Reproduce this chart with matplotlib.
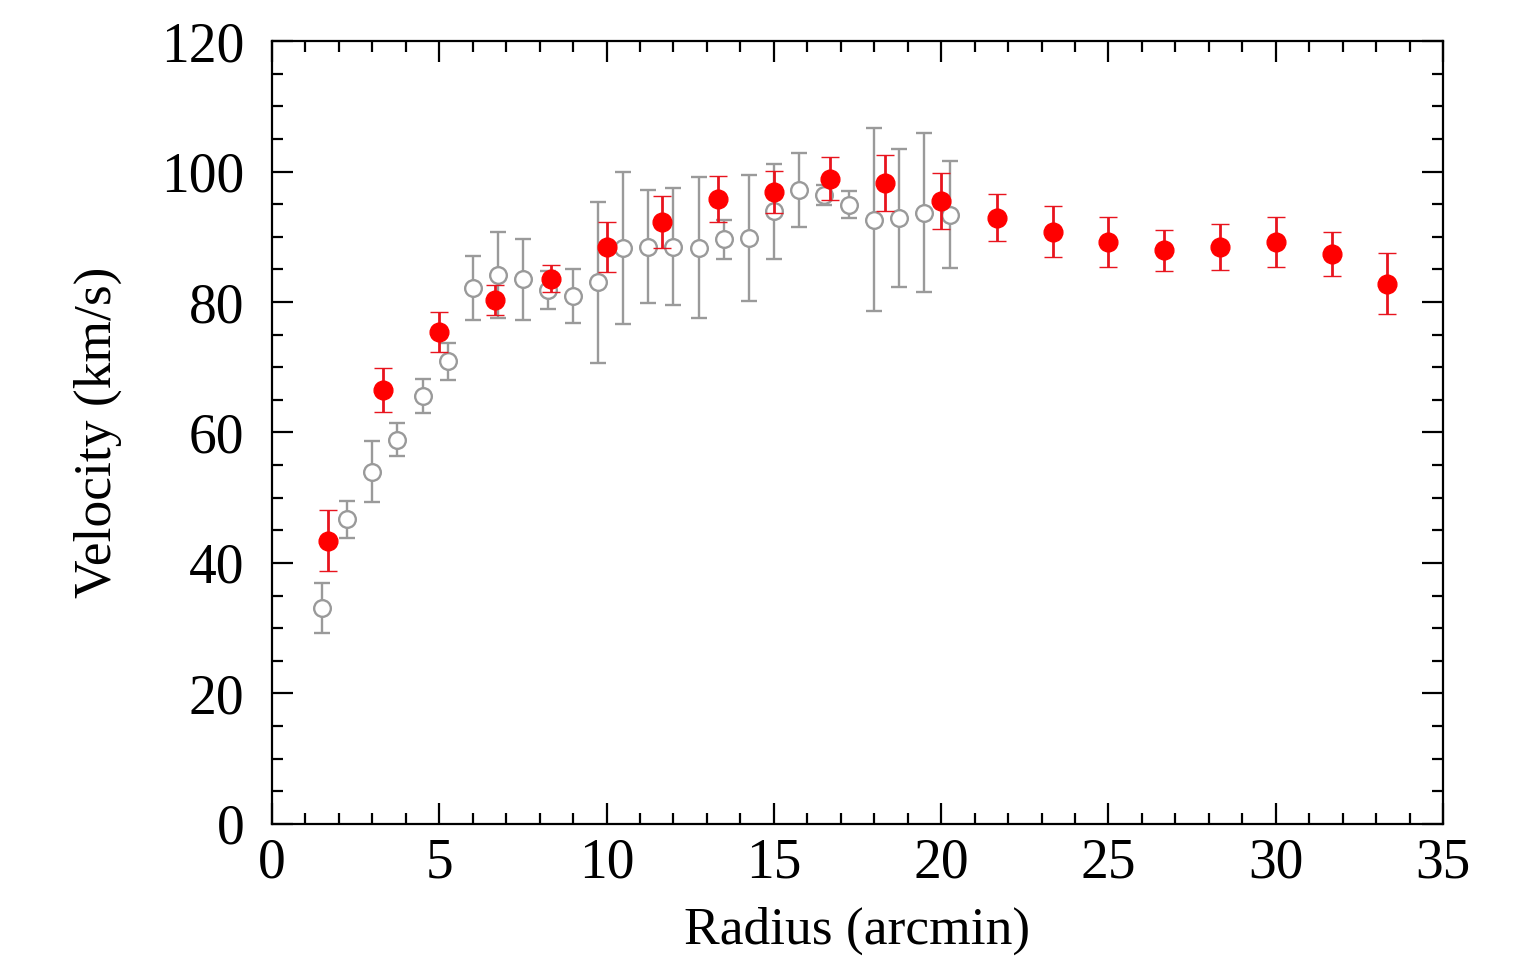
import matplotlib
matplotlib.use("Agg")
import matplotlib.pyplot as plt
import numpy as np
from matplotlib.ticker import MultipleLocator

# Red filled points
red_r = [1.67, 3.33, 5.0, 6.67, 8.33, 10.0, 11.67, 13.33, 15.0, 16.67,
         18.33, 20.0, 21.67, 23.33, 25.0, 26.67, 28.33, 30.0, 31.67, 33.33]
red_v = [43.4, 66.5, 75.4, 80.3, 83.6, 88.4, 92.3, 95.8, 96.9, 98.9,
         98.3, 95.5, 92.9, 90.8, 89.2, 87.9, 88.4, 89.2, 87.4, 82.8]
red_e = [4.7, 3.4, 3.1, 2.3, 2.1, 3.8, 4.0, 3.5, 3.2, 3.3,
         4.3, 4.3, 3.6, 3.9, 3.9, 3.1, 3.5, 3.9, 3.4, 4.7]

# Grey open points
grey_r = [1.5, 2.25, 3.0, 3.75, 4.5, 5.25, 6.0, 6.75, 7.5, 8.25,
          9.0, 9.75, 10.5, 11.25, 12.0, 12.75, 13.5, 14.25, 15.0, 15.75,
          16.5, 17.25, 18.0, 18.75, 19.5, 20.25]
grey_v = [33.1, 46.7, 54.0, 58.9, 65.6, 70.9, 82.2, 84.1, 83.5, 81.8,
          80.9, 83.0, 88.3, 88.5, 88.5, 88.3, 89.6, 89.8, 93.9, 97.2,
          96.4, 94.9, 92.6, 92.9, 93.7, 93.4]
grey_e = [3.9, 2.8, 4.7, 2.5, 2.6, 2.8, 4.9, 6.6, 6.2, 2.9,
          4.1, 12.4, 11.7, 8.6, 9.0, 10.8, 3.0, 9.6, 7.3, 5.7,
          1.5, 2.1, 14.0, 10.6, 12.2, 8.2]

plt.rcParams['font.family'] = ['Liberation Serif', 'DejaVu Serif']
plt.rcParams['mathtext.fontset'] = 'stix'

fig = plt.figure(figsize=(15.15, 9.61), dpi=100)
ax = fig.add_axes([0.1795, 0.1426, 0.7730, 0.8147])

grey = '#9a9a9a'
ax.errorbar(grey_r, grey_v, yerr=grey_e, fmt='o', ms=12, mfc='white', mec=grey,
            mew=1.7, ecolor=grey, elinewidth=1.7, capsize=6, capthick=1.7, zorder=2)
ax.errorbar(red_r, red_v, yerr=red_e, fmt='o', ms=13.5, mfc='#ff0000', mec='#ff0000',
            mew=1, ecolor='#e8141e', elinewidth=2.0, capsize=6.5, capthick=2.0, zorder=3)

ax.set_xlim(0, 35)
ax.set_ylim(0, 120)
ax.xaxis.set_major_locator(MultipleLocator(5))
ax.xaxis.set_minor_locator(MultipleLocator(1))
ax.yaxis.set_major_locator(MultipleLocator(20))
ax.yaxis.set_minor_locator(MultipleLocator(5))

for s in ax.spines.values():
    s.set_linewidth(1.6)
ax.tick_params(which='both', direction='in', top=True, right=True, width=1.6)
ax.tick_params(which='major', length=15, labelsize=40)
ax.tick_params(which='minor', length=8)
ax.tick_params(axis='x', pad=10)
ax.tick_params(axis='y', pad=20)

ax.set_xlabel('Radius (arcmin)', fontsize=38.5, labelpad=12)
ax.set_ylabel('Velocity (km/s)', fontsize=38.5, labelpad=28)

fig.savefig('out.png', dpi=100, facecolor='white')
